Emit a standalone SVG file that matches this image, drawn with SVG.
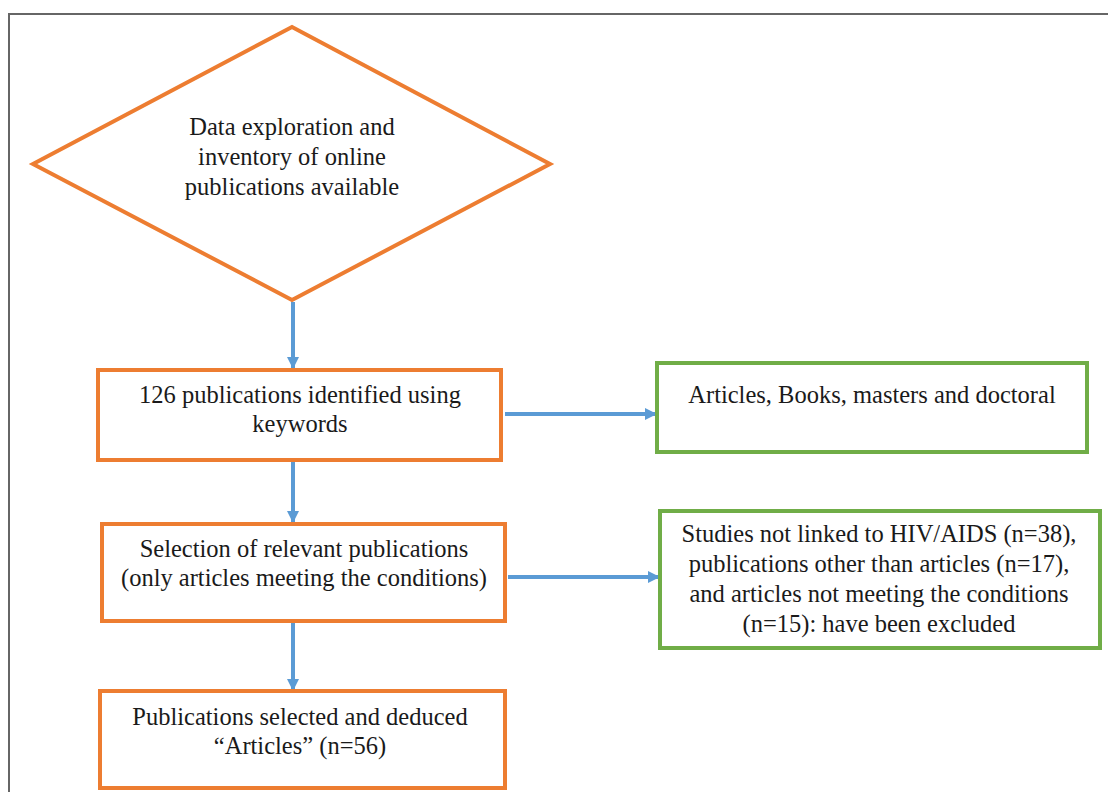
<svg xmlns="http://www.w3.org/2000/svg" width="1108" height="792" viewBox="0 0 1108 792">
<style>
.o{fill:#fff;stroke:#ED7D31;stroke-width:4}
.g{fill:#fff;stroke:#70AD47;stroke-width:4}
.c{stroke:#5B9BD5;stroke-width:4;fill:none}
.t{font-family:'Liberation Serif','DejaVu Serif',serif;font-size:24.5px;fill:#1a1a1a;text-anchor:middle}
</style>
<defs>
<marker id="ah" markerUnits="userSpaceOnUse" markerWidth="14" markerHeight="14" refX="11" refY="7" orient="auto">
<path d="M0,1 L12,7 L0,13 Z" fill="#5B9BD5"/>
</marker>
</defs>
<rect x="0" y="0" width="1108" height="792" fill="#fff"/>
<path d="M9,792 V14 H1108" fill="none" stroke="#666" stroke-width="2"/>
<g id="connectors">
<line class="c" x1="293" y1="302" x2="293" y2="368" marker-end="url(#ah)"/>
<line class="c" x1="293" y1="462" x2="293" y2="522" marker-end="url(#ah)"/>
<line class="c" x1="293" y1="623" x2="293" y2="690" marker-end="url(#ah)"/>
<line class="c" x1="505" y1="414" x2="656" y2="414" marker-end="url(#ah)"/>
<line class="c" x1="508" y1="577" x2="659" y2="577" marker-end="url(#ah)"/>
</g>
<g id="start">
<polygon class="o" points="292,27 550,164 292,300 33,164"/>
<text class="t" x="292" y="135">Data exploration and</text>
<text class="t" x="292" y="165">inventory of online</text>
<text class="t" x="292" y="195">publications available</text>
</g>
<g id="identified">
<rect class="o" x="98" y="370" width="403" height="90"/>
<text class="t" x="300" y="403">126 publications identified using</text>
<text class="t" x="300" y="432">keywords</text>
</g>
<g id="types">
<rect class="g" x="657" y="363" width="430" height="89"/>
<text class="t" x="872" y="403">Articles, Books, masters and doctoral</text>
</g>
<g id="selection">
<rect class="o" x="102" y="524" width="403" height="97"/>
<text class="t" x="304" y="557">Selection of relevant publications</text>
<text class="t" x="304" y="586">(only articles meeting the conditions)</text>
</g>
<g id="excluded">
<rect class="g" x="660" y="511" width="440" height="137"/>
<text class="t" x="879" y="542">Studies not linked to HIV/AIDS (n=38),</text>
<text class="t" x="879" y="572">publications other than articles (n=17),</text>
<text class="t" x="879" y="602">and articles not meeting the conditions</text>
<text class="t" x="879" y="632">(n=15): have been excluded</text>
</g>
<g id="result">
<rect class="o" x="100" y="691" width="405" height="97"/>
<text class="t" x="300" y="725">Publications selected and deduced</text>
<text class="t" x="300" y="754">“Articles” (n=56)</text>
</g>
</svg>
